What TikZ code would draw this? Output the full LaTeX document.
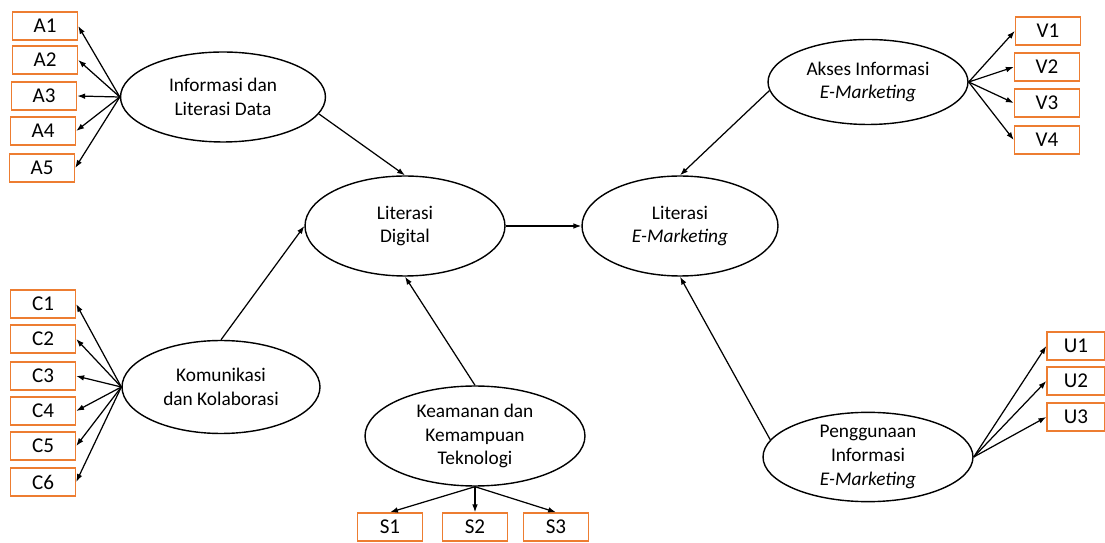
\documentclass[tikz,border=0pt]{standalone}
\usepackage{fontspec}
\setmainfont{Carlito}
\usetikzlibrary{shapes.geometric,arrows.meta}
\definecolor{boxorange}{RGB}{237,125,49}
\begin{document}
\begin{tikzpicture}[x=0.02cm,y=-0.02cm,
    latent/.style={draw,ellipse,line width=0.8pt,align=center,inner sep=0pt,
      font=\fontsize{11}{13.5}\selectfont},
    ind/.style={draw=boxorange,line width=0.8pt,minimum width=1.3cm,
      minimum height=0.56cm,inner sep=0pt,font=\fontsize{12}{14}\selectfont},
    >={Latex[length=4.5pt,width=3.2pt]}]
      \useasboundingbox (0,0) rectangle (1105,543);
      % latent variables
      \node[latent,minimum width=4.1cm,minimum height=1.8cm] (inf) at (223,97) {Informasi dan\\Literasi Data};
      \node[latent,minimum width=4.0cm,minimum height=2.0cm] (dig) at (405,226) {Literasi\\Digital};
      \node[latent,minimum width=3.92cm,minimum height=2.0cm] (em) at (680,226) {Literasi\\\textit{E-Marketing}};
      \node[latent,minimum width=4.0cm,minimum height=1.7cm] (akses) at (868,82) {Akses Informasi\\\textit{E-Marketing}};
      \node[latent,minimum width=3.96cm,minimum height=1.86cm] (kom) at (221,387) {Komunikasi\\dan Kolaborasi};
      \node[latent,minimum width=4.4cm,minimum height=2.0cm] (kem) at (475,436) {Keamanan dan\\Kemampuan\\Teknologi};
      \node[latent,minimum width=4.2cm,minimum height=1.74cm] (peng) at (868,457) {Penggunaan\\Informasi\\\textit{E-Marketing}};
      % indicators
      \draw
        (45,26) node[ind] (a1){A1}
        (45,60) node[ind] (a2){A2}
        (44,96) node[ind] (a3){A3}
        (43,131) node[ind] (a4){A4}
        (42,168) node[ind] (a5){A5};
      \draw
        (43,304) node[ind] (c1){C1}
        (43,339) node[ind] (c2){C2}
        (43,376) node[ind] (c3){C3}
        (43,411) node[ind] (c4){C4}
        (43,446) node[ind] (c5){C5}
        (43,482) node[ind] (c6){C6};
      \draw
        (390,527) node[ind] (s1){S1}
        (475,527) node[ind] (s2){S2}
        (556,527) node[ind] (s3){S3};
      \draw
        (1048,31) node[ind] (v1){V1}
        (1047,67) node[ind] (v2){V2}
        (1047,103) node[ind] (v3){V3}
        (1047,140) node[ind] (v4){V4};
      \draw
        (1076,346) node[ind,minimum width=1.16cm] (u1){U1}
        (1076,381) node[ind,minimum width=1.16cm] (u2){U2}
        (1076,417) node[ind,minimum width=1.16cm] (u3){U3};
      \begin{scope}[->,line width=0.7pt]
        \draw (inf.west) to (a1.east);
        \draw (inf.west) to (a2.east);
        \draw (inf.west) to (a3.east);
        \draw (inf.west) to (a4.east);
        \draw (inf.west) to (a5.east);
        \draw (kom.west) to (c1.east);
        \draw (kom.west) to (c2.east);
        \draw (kom.west) to (c3.east);
        \draw (kom.west) to (c4.east);
        \draw (kom.west) to (c5.east);
        \draw (kom.west) to (c6.east);
        \draw (kem.south) to (s1.north);
        \draw (kem.south) to (s2.north);
        \draw (kem.south) to (s3.north);
        \draw (akses.east) to (v1.west);
        \draw (akses.east) to (v2.west);
        \draw (akses.east) to (v3.west);
        \draw (akses.east) to (v4.west);
        \draw (peng.east) to (u1.west);
        \draw (peng.east) to (u2.west);
        \draw (peng.east) to (u3.west);
        \draw (inf.-10) to (dig.north);
        \draw (kom.north) to (dig.west);
        \draw (kem.north) to (dig.south);
        \draw (dig.east) to (em.west);
        \draw (akses.185) to (em.north);
        \draw (peng.170) to (em.south);
      \end{scope}
    \end{tikzpicture}
\end{document}
